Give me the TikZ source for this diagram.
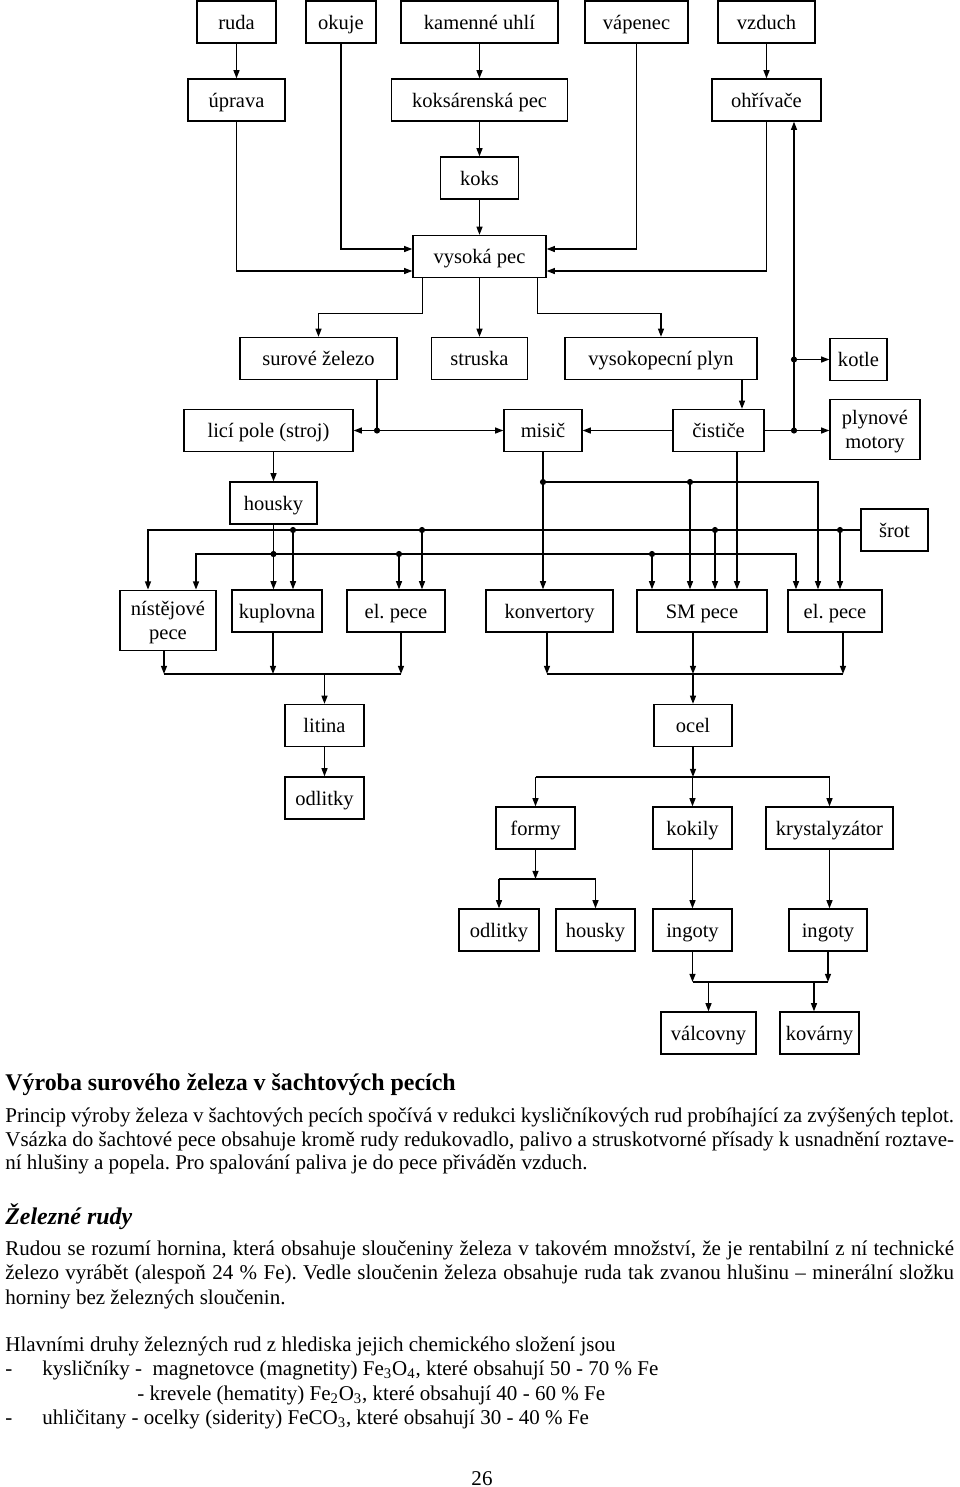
\documentclass[tikz,border=0pt]{standalone}
\usepackage{fontspec}
\setmainfont{Liberation Serif}
\usetikzlibrary{arrows.meta,calc}
\frenchspacing

\def\px{0.585pt}
\tikzset{
  box/.style={draw, line width=0.8pt, minimum height=42*\px, inner sep=1pt, align=center, font=\fontsize{12}{14}\selectfont, execute at begin node={\rule[-4pt]{0pt}{16.6pt}}},
  box2/.style={draw, line width=0.8pt, inner sep=1pt, align=center, font=\fontsize{12}{14}\selectfont},
  wire/.style={line width=0.8pt},
  arr/.style={wire, -{Triangle[length=4.8pt,width=3.5pt]}},
  arrs/.style={wire, {Triangle[length=4.8pt,width=3.5pt]}-{Triangle[length=4.8pt,width=3.5pt]}},
  txt/.style={anchor=base west, inner sep=0pt, font=\fontsize{12.3}{14}\selectfont},
}
\newcommand{\dotat}[1]{\fill (#1) circle (1.8pt);}
\newcommand{\jline}[1]{\makebox[555pt][s]{#1}}
\newcommand{\twolines}[2]{\rule{0pt}{13.6pt}#1\\#2\rule[-5.8pt]{0pt}{5.8pt}}

\begin{document}
\begin{tikzpicture}[x=0.585pt,y=-0.585pt]
    \useasboundingbox (0,0) rectangle (960,1487);
    % Raw materials
    \node[box, minimum width=79*\px] (ruda) at (236.5,22) {ruda};
    \node[box, minimum width=70*\px] (okuje) at (341,22) {okuje};
    \node[box, minimum width=157*\px] (uhli) at (479.5,22) {kamenné uhlí};
    \node[box, minimum width=103*\px] (vapenec) at (636.5,22) {vápenec};
    \node[box, minimum width=97*\px] (vzduch) at (766.5,22) {vzduch};
    % Preparation
    \node[box, minimum width=97*\px] (uprava) at (236.5,100) {úprava};
    \node[box, minimum width=176*\px] (kokspec) at (479.5,100) {koksárenská pec};
    \node[box, minimum width=109*\px] (ohrivace) at (766.5,100) {ohřívače};
    \node[box, minimum width=78*\px] (koks) at (479.5,178) {koks};
    \node[box, minimum width=133*\px] (vysoka) at (479.5,256.5) {vysoká pec};
    % Blast furnace products
    \node[box, minimum width=157*\px] (surove) at (318.5,358.5) {surové železo};
    \node[box, minimum width=96*\px] (struska) at (479.5,358.5) {struska};
    \node[box, minimum width=192*\px] (plyn) at (661,358.5) {vysokopecní plyn};
    \node[box, minimum width=57*\px] (kotle) at (858.5,359.5) {kotle};
    \node[box, minimum width=169*\px] (licipole) at (268.5,430.5) {licí pole (stroj)};
    \node[box, minimum width=78*\px] (misic) at (543,430.5) {misič};
    \node[box, minimum width=91*\px] (cistice) at (718.5,430.5) {čističe};
    \node[box2, minimum width=90*\px] (motory) at (875,429.5) {\twolines{plynové}{motory}};
    \node[box, minimum width=87*\px] (housky) at (273.5,503) {housky};
    \node[box, minimum width=67*\px] (srot) at (894.5,530) {šrot};
    % Furnaces
    \node[box2, minimum width=96*\px] (nistej) at (168,620.5) {\twolines{nístějové}{pece}};
    \node[box, minimum width=90*\px] (kuplovna) at (277,611) {kuplovna};
    \node[box, minimum width=98*\px] (elpeceA) at (396,611) {el. pece};
    \node[box, minimum width=127*\px] (konvertory) at (549.5,611) {konvertory};
    \node[box, minimum width=130*\px] (smpece) at (702,611) {SM pece};
    \node[box, minimum width=94*\px] (elpeceB) at (835,611) {el. pece};
    % Cast iron and steel
    \node[box, minimum width=79*\px] (litina) at (324.5,725.5) {litina};
    \node[box, minimum width=78*\px] (ocel) at (693,725.5) {ocel};
    \node[box, minimum width=79*\px] (odlitkyA) at (324.5,798) {odlitky};
    \node[box, minimum width=79*\px] (formy) at (535.5,828) {formy};
    \node[box, minimum width=79*\px] (kokily) at (692.5,828) {kokily};
    \node[box, minimum width=127*\px] (kryst) at (829.5,828) {krystalyzátor};
    \node[box, minimum width=80*\px] (odlitkyB) at (499,930) {odlitky};
    \node[box, minimum width=79*\px] (houskyB) at (595.5,930) {housky};
    \node[box, minimum width=79*\px] (ingotyA) at (692.5,930) {ingoty};
    \node[box, minimum width=78*\px] (ingotyB) at (828,930) {ingoty};
    \node[box, minimum width=95*\px] (valcovny) at (708.5,1033) {válcovny};
    \node[box, minimum width=79*\px] (kovarny) at (819.5,1033) {kovárny};

    % Charge of the blast furnace
    \draw[arr] (ruda) -- (uprava);
    \draw[arr] (uhli) -- (kokspec);
    \draw[arr] (kokspec) -- (koks);
    \draw[arr] (koks) -- (vysoka);
    \draw[arr] (vzduch) -- (ohrivace);
    \draw[arr] (uprava.south) |- ($(vysoka.west)+(0,14.5)$);
    \draw[arr] (okuje.south) |- ($(vysoka.west)+(0,-7.5)$);
    \draw[arr] (vapenec.south) |- ($(vysoka.east)+(0,-7.5)$);
    \draw[arr] (ohrivace.south) |- ($(vysoka.east)+(0,14.5)$);
    % Outputs
    \draw[arr] ($(vysoka.south west)+(10,0)$) -- ++(0,35) -| (surove.north);
    \draw[arr] (vysoka) -- (struska);
    \draw[arr] ($(vysoka.south east)+(-9,0)$) -- ++(0,35) -| (plyn.north);
    % Pig iron and gas
    \coordinate (jSur) at (377,430.5);
    \draw[wire] (jSur |- surove.south) -- (jSur);
    \draw[arrs] (licipole) -- (misic);
    \dotat{jSur}
    \coordinate (tPlyn) at (742,380);
    \draw[arr] (tPlyn) -- (tPlyn |- cistice.north);
    \draw[arr] (cistice) -- (misic);
    \coordinate (jGas) at (794,430.5);
    \draw[arr] (cistice.east) -- (cistice.east -| motory.west);
    \draw[arr] (jGas) -- (jGas |- ohrivace.south);
    \draw[arr] (jGas |- kotle.west) -- (kotle.west);
    \dotat{jGas}
    \dotat{jGas |- kotle.west}
    \draw[arr] (housky.north |- licipole.south) -- (housky.north);

    % Scrap line
    \draw[arr] (srot.west) -| ($(nistej.north)+(-20,0)$);
    \foreach \x/\t in {293/kuplovna, 422/elpeceA, 715/smpece, 840/elpeceB} {
      \coordinate (s\t) at (\x,530);
      \draw[arr] (s\t) -- (s\t |- \t.north);
      \dotat{s\t}
    }
    % Housky line
    \draw[arr] (housky.south) -- (housky.south |- kuplovna.north);
    \coordinate (jH) at (housky.south |- 0,554);
    \draw[arr] (jH) -| ($(nistej.north)+(28,0)$);
    \draw[arr] (jH) -| ($(elpeceB.north)+(-39,0)$);
    \dotat{jH}
    \foreach \x/\t in {399/elpeceA, 652/smpece} {
      \coordinate (h\t) at (\x,554);
      \draw[arr] (h\t) -- (h\t |- \t.north);
      \dotat{h\t}
    }
    % Mixer line
    \draw[arr] (misic.south) -- (misic.south |- konvertory.north);
    \coordinate (jM) at (misic.south |- 0,482);
    \draw[arr] (jM) -| ($(elpeceB.north)+(-17,0)$);
    \dotat{jM}
    \coordinate (mSM) at (690,482);
    \draw[arr] (mSM) -- (mSM |- smpece.north);
    \dotat{mSM}
    % Cleaner line
    \coordinate (tC) at (737,452);
    \draw[arr] (tC) -- (tC |- smpece.north);

    % Collecting lines
    \coordinate (busL) at (326,674);
    \coordinate (busR) at (693,674);
    \foreach \n/\dx in {nistej/-4, kuplovna/-4, elpeceA/5} {
      \coordinate (t\n) at ($(\n.south)+(\dx,0)$);
      \draw[arr] (t\n) -- (t\n |- busL);
    }
    \foreach \n/\dx in {konvertory/-2.5, smpece/-9, elpeceB/8} {
      \coordinate (t\n) at ($(\n.south)+(\dx,0)$);
      \draw[arr] (t\n) -- (t\n |- busR);
    }
    \draw[wire] (busL -| tnistej) -- (busL -| telpeceA);
    \draw[wire] (busR -| tkonvertory) -- (busR -| telpeceB);
    \draw[arr] (litina.north |- busL) -- (litina.north);
    \draw[arr] (ocel.north |- busR) -- (ocel.north);
    \draw[arr] (litina) -- (odlitkyA);
    % Steel casting
    \coordinate (busO) at (693,777);
    \draw[arr] (ocel.south) -- (ocel.south |- busO);
    \draw[wire] (busO -| formy) -- (busO -| kryst);
    \foreach \n in {formy, kokily, kryst} \draw[arr] (busO -| \n) -- (\n.north);
    \coordinate (busF) at (535,879);
    \draw[arr] (formy.south) -- (formy.south |- busF);
    \draw[wire] (busF -| odlitkyB) -- (busF -| houskyB);
    \foreach \n in {odlitkyB, houskyB} \draw[arr] (busF -| \n) -- (\n.north);
    \draw[arr] (kokily.south) -- (kokily.south |- ingotyA.north);
    \draw[arr] (kryst.south) -- (kryst.south |- ingotyB.north);
    % Ingots
    \coordinate (busI) at (700,982);
    \draw[arr] (ingotyA.south) -- (ingotyA.south |- busI);
    \draw[arr] (ingotyB.south) -- (ingotyB.south |- busI);
    \draw[wire] (busI -| ingotyA) -- (busI -| ingotyB);
    \coordinate (iK) at (814,982);
    \draw[arr] (busI -| valcovny) -- (valcovny.north);
    \draw[arr] (iK) -- (iK |- kovarny.north);

    % Text
    \node[txt, font=\fontsize{14}{16}\selectfont\bfseries] (nadpis) at (5,1090) {Výroba surového železa v šachtových pecích};
    \node[txt] (princip1) at (5,1122) {\jline{Princip výroby železa v šachtových pecích spočívá v redukci kysličníkových rud probíhající za zvýšených teplot.}};
    \node[txt] (princip2) at (5,1146) {\jline{Vsázka do šachtové pece obsahuje kromě rudy redukovadlo, palivo a struskotvorné přísady k usnadnění roztave-}};
    \node[txt] (princip3) at (5,1169) {ní hlušiny a popela. Pro spalování paliva je do pece přiváděn vzduch.};
    \node[txt, font=\fontsize{14}{16}\selectfont\bfseries\itshape] (rudy) at (5,1224) {Železné rudy};
    \node[txt] (rudy1) at (5,1255) {\jline{Rudou se rozumí hornina, která obsahuje sloučeniny železa v takovém množství, že je rentabilní z ní technické}};
    \node[txt] (rudy2) at (5,1279) {\jline{železo vyrábět (alespoň 24 \% Fe). Vedle sloučenin železa obsahuje ruda tak zvanou hlušinu – minerální složku}};
    \node[txt] (rudy3) at (5,1304) {horniny bez železných sloučenin.};
    \node[txt] (druhy) at (5,1351) {Hlavními druhy železných rud z hlediska jejich chemického složení jsou};
    \node[txt] (pomlA) at (5,1375) {-};
    \node[txt] (oxidy) at (42,1375) {kysličníky -\ \ magnetovce (magnetity) Fe\textsubscript{3}O\textsubscript{4}, které obsahují 50 - 70 \% Fe};
    \node[txt] (krevel) at (137,1400) {- krevele (hematity) Fe\textsubscript{2}O\textsubscript{3}, které obsahují 40 - 60 \% Fe};
    \node[txt] (pomlB) at (5,1424) {-};
    \node[txt] (uhlic) at (42,1424) {uhličitany - ocelky (siderity) FeCO\textsubscript{3}, které obsahují 30 - 40 \% Fe};
    \node[txt, anchor=base] (strana) at (482,1485) {26};
\end{tikzpicture}
\end{document}
